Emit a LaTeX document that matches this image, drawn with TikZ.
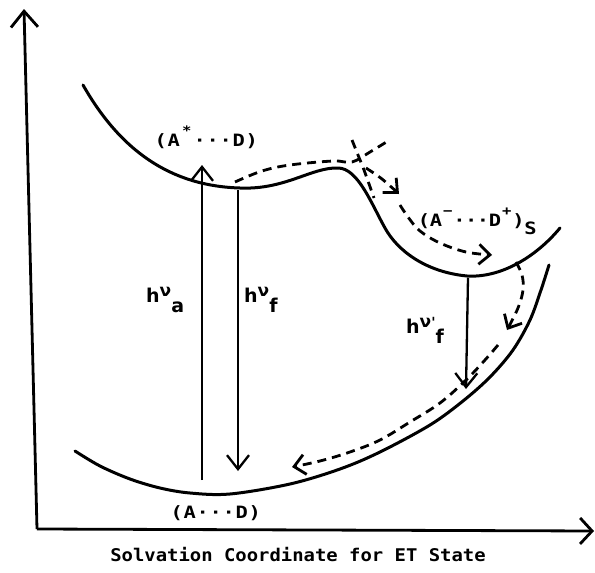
\documentclass[tikz,border=0pt]{standalone}
\usepackage{fontspec}
\setmainfont{DejaVu Sans}
\newfontfamily\labfont[FakeStretch=1.2]{DejaVu Sans Mono Bold}
\newfontfamily\capfont[FakeStretch=1.08]{DejaVu Sans Mono Bold}
\newfontfamily\hfont{DejaVu Sans Bold}
\usetikzlibrary{arrows.meta}
\newcommand\cellw{13pt}
\newcommand\cel[1]{\makebox[\cellw][c]{#1}}
\newcommand\spr[1]{\raisebox{0.6em}{\fontsize{13}{13}\selectfont #1}}
\newcommand\nuu{\raisebox{6pt}{\fontsize{17}{17}\selectfont ν}}
\newcommand\sbb[1]{\raisebox{-10pt}{#1}}
\begin{document}
\begin{tikzpicture}[x=1pt,y=-1pt,
  curve/.style={line width=3pt, line cap=round, line join=round},
  yaxis/.style={line width=2.8pt, -{Straight Barb[length=16pt,width=27pt]}},
  xaxis/.style={line width=2.8pt, -{Straight Barb[length=12pt,width=26pt]}},
  varrow/.style={line width=2.3pt, -{Straight Barb[length=14pt,width=22pt]}},
  dline/.style={line width=2.8pt, dash pattern=on 9pt off 6pt},
  darrow/.style={dline, -{Straight Barb[length=11pt,width=20pt]}},
  lab/.style={font=\labfont\fontsize{17}{17}\selectfont, inner sep=0pt},
  hnu/.style={font=\hfont\fontsize{19}{19}\selectfont, inner sep=0pt, anchor=base west},
  captext/.style={font=\capfont\fontsize{17.5}{17.5}\selectfont, inner sep=0pt}
]
\useasboundingbox (0,0) rectangle (595,573);
% axes
\coordinate (O) at (37,529);
\coordinate (Ytip) at (24,9);
\coordinate (Xtip) at (594,531);
\draw[yaxis] (O) -- (Ytip);
\draw[xaxis] (O) -- (Xtip);
% upper curve
\draw[curve] (83,85) .. controls (120,150) and (170,186) .. (240,188)
  .. controls (285,190) and (312,167) .. (338,168)
  .. controls (358,168) and (372,205) .. (385,228)
  .. controls (397,250) and (425,272) .. (467,276)
  .. controls (500,278) and (535,258) .. (560,228);
% lower curve
\draw[curve] plot[smooth,tension=0.55] coordinates {(75,451) (100,466) (130,479) (160,488) (190,493) (230,494) (290,484) (340,469) (380,452) (430,425) (463,401) (490,377) (513,350) (530,320) (541,290) (549,265)};
% dashed lines
\draw[dline] plot[smooth,tension=0.6] coordinates {(235,182) (262,171) (290,165) (333,161) (352,162) (370,152) (388,141)};
\draw[dline] plot[smooth,tension=0.6] coordinates {(352,140) (358,155) (364,170) (374,198)};
\draw[darrow] plot[smooth,tension=0.6] coordinates {(366,168) (382,179) (399,194)};
\draw[darrow] plot[smooth,tension=0.6] coordinates {(400,205) (408,217) (420,231) (440,243) (466,252) (492,255)};
\draw[darrow] plot[smooth,tension=0.6] coordinates {(516,262) (522,275) (523,290) (518,308) (507,330)};
\draw[darrow] plot[smooth,tension=0.6] coordinates {(498,345) (485,360) (466,380) (440,403) (410,422) (380,440) (350,452) (320,461) (292,467)};
% vertical arrows
\coordinate (a1) at (202,480); \coordinate (a2) at (202,165);
\coordinate (f1) at (238,190); \coordinate (f2) at (238,471);
\coordinate (g1) at (468,278); \coordinate (g2) at (466,389);
\draw[varrow] (a1) -- (a2);
\draw[varrow] (f1) -- (f2);
\draw[varrow] (g1) -- (g2);
% labels
\node[lab, anchor=base west] (lAs) at (154,146) {\cel{(}\cel{A}\cel{\spr{*}}\cel{·}\cel{·}\cel{·}\cel{D}\cel{)}};
\node[lab, anchor=base west] (lAm) at (418,226) {\renewcommand\cellw{11.8pt}\cel{(}\cel{A}\cel{\spr{−}}\cel{·}\cel{·}\cel{·}\cel{D}\cel{\spr{+}}\cel{)}\raisebox{-8pt}{S}};
\node[lab, anchor=base west] (lAD) at (170,518) {\cel{(}\cel{A}\cel{·}\cel{·}\cel{·}\cel{D}\cel{)}};
\node[hnu] (ha) at (146,302) {h\nuu\sbb{a}};
\node[hnu] (hf) at (244,302) {h\nuu\sbb{f}};
\node[hnu] (hg) at (406,333) {h\nuu\raisebox{6pt}{\fontsize{14}{14}\selectfont '}\sbb{f}};
\node[captext, anchor=base] (xl) at (298,561) {Solvation Coordinate for ET State};
\end{tikzpicture}
\end{document}
